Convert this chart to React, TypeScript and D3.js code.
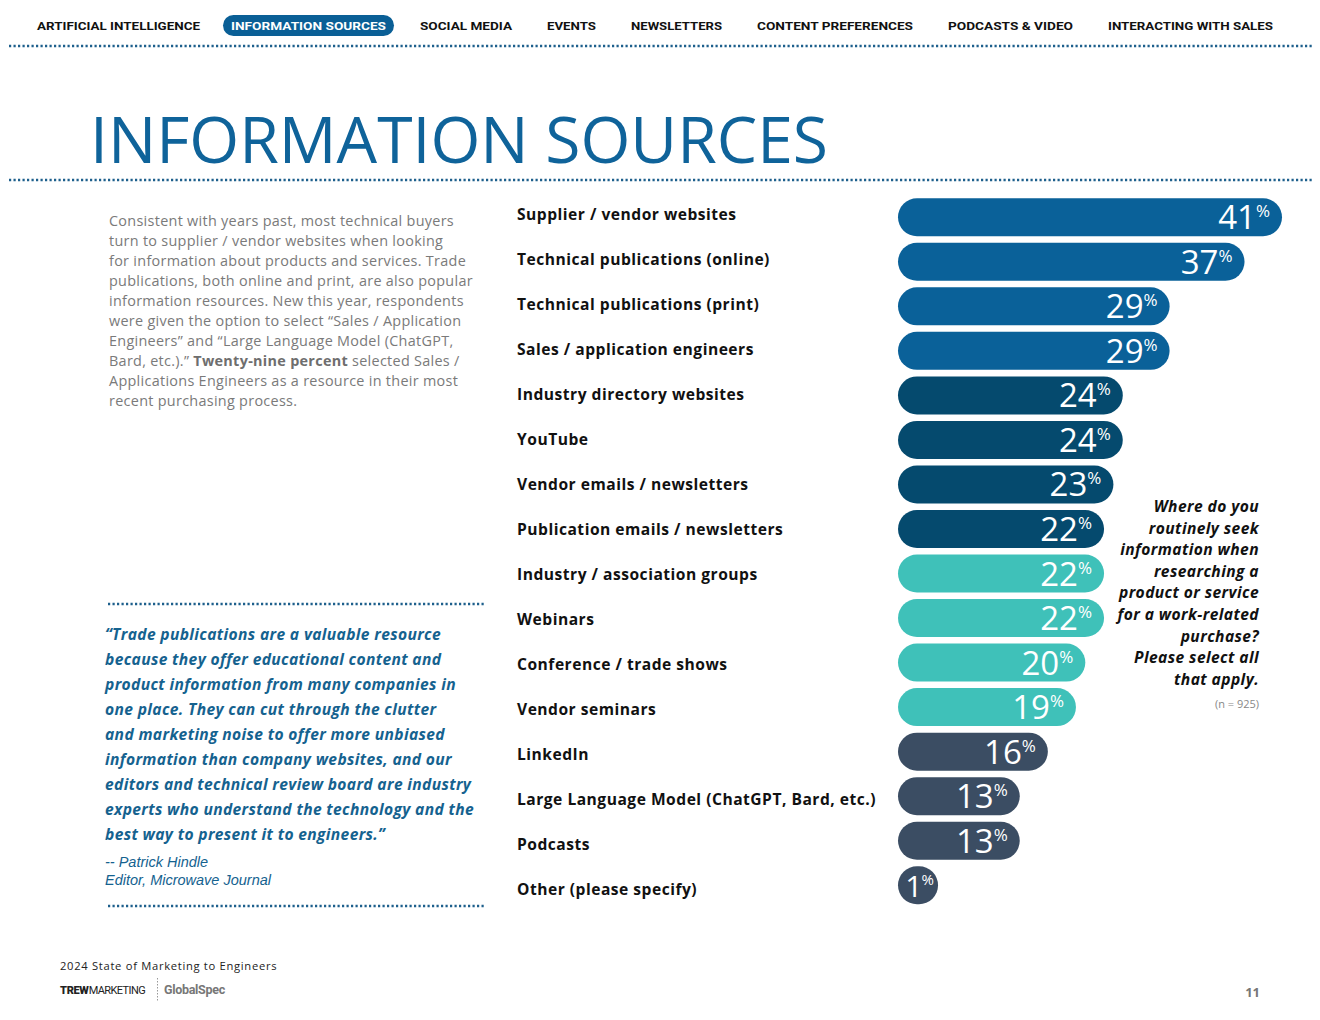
import React from "react";
import * as d3 from "d3";

const navItems = [
  "ARTIFICIAL INTELLIGENCE",
  "INFORMATION SOURCES",
  "SOCIAL MEDIA",
  "EVENTS",
  "NEWSLETTERS",
  "CONTENT PREFERENCES",
  "PODCASTS & VIDEO",
  "INTERACTING WITH SALES",
];
const activeNav = "INFORMATION SOURCES";

const categories = [
  "Supplier / vendor websites",
  "Technical publications (online)",
  "Technical publications (print)",
  "Sales / application engineers",
  "Industry directory websites",
  "YouTube",
  "Vendor emails / newsletters",
  "Publication emails / newsletters",
  "Industry / association groups",
  "Webinars",
  "Conference / trade shows",
  "Vendor seminars",
  "LinkedIn",
  "Large Language Model (ChatGPT, Bard, etc.)",
  "Podcasts",
  "Other (please specify)",
];
const values = [41, 37, 29, 29, 24, 24, 23, 22, 22, 22, 20, 19, 16, 13, 13, 1];
const groups = ["g1", "g1", "g1", "g1", "g2", "g2", "g2", "g2", "g3", "g3", "g3", "g3", "g4", "g4", "g4", "g4"];

const introLines = [
  "Consistent with years past, most technical buyers",
  "turn to supplier / vendor websites when looking",
  "for information about products and services. Trade",
  "publications, both online and print, are also popular",
  "information resources. New this year, respondents",
  "were given the option to select \u201cSales / Application",
  "Engineers\u201d and \u201cLarge Language Model (ChatGPT,",
  "__BOLD__",
  "Applications Engineers as a resource in their most",
  "recent purchasing process.",
];
const quoteLines = [
  "\u201cTrade publications are a valuable resource",
  "because they offer educational content and",
  "product information from many companies in",
  "one place. They can cut through the clutter",
  "and marketing noise to offer more unbiased",
  "information than company websites, and our",
  "editors and technical review board are industry",
  "experts who understand the technology and the",
  "best way to present it to engineers.\u201d",
];
const attributionLines = ["-- Patrick Hindle", "Editor, Microwave Journal"];
const questionLines = [
  "Where do you",
  "routinely seek",
  "information when",
  "researching a",
  "product or service",
  "for a work-related",
  "purchase?",
  "Please select all",
  "that apply.",
];

const W = 1320;
const H = 1020;
const BODY = "'Open Sans', Roboto, sans-serif";
const NUM = "'Open Sans', 'Noto Sans', sans-serif";

export default function App() {
  const x = d3.scaleLinear().domain([0, 41]).range([898, 1282]);
  const y = d3.scaleBand<string>().domain(categories).range([195, 907.5]).paddingInner(0.146).paddingOuter(0.073);
  const yLabel = d3.scaleBand<string>().domain(categories).range([191.5, 911.5]);
  const color = d3.scaleOrdinal<string, string>().domain(["g1", "g2", "g3", "g4"]).range(["#0a6199", "#054a6e", "#3fc1b9", "#3b4d63"]);

  const navStarts = [37, 231, 420, 547, 631, 757, 948, 1108];
  const navWidths = [163, 155, 92, 49, 91, 156, 125, 165];

  const dotted = { stroke: "#1d5f8c", strokeWidth: 2.5, strokeDasharray: "2.2 2.3" };

  return (
    <div style={{ margin: -8, width: W, height: H }}>
      <svg width={W} height={H} style={{ display: "block", background: "#fff" }}>
        {/* Nav */}
        {navItems.map((n, i) => {
          const active = n === activeNav;
          const x0 = navStarts[i];
          return (
            <g key={n}>
              {active && (
                <rect x={x0 - 8} y={15} width={navWidths[i] + 16} height={21} rx={10.5} fill="#0a5f96" />
              )}
              <text
                x={x0}
                y={30}
                fontFamily="Roboto, sans-serif"
                fontWeight={700}
                fontSize={11.5}
                fill={active ? "#fff" : "#111"}
                textLength={navWidths[i]}
                lengthAdjust="spacingAndGlyphs"
              >
                {n}
              </text>
            </g>
          );
        })}
        <line x1={0} x2={W} y1={46} y2={46} {...dotted} />

        {/* Title */}
        <text x={90} y={163} fontFamily={NUM} fontWeight={400} fontSize={64} fill="#0f639a" textLength={738} lengthAdjust="spacingAndGlyphs">
          INFORMATION SOURCES
        </text>
        <line x1={0} x2={W} y1={180} y2={180} {...dotted} />

        {/* Intro paragraph */}
        <g fontFamily={BODY} fontSize={14.4} fill="#7a7a7a" letterSpacing={0.3}>
          {introLines.map((l, i) =>
            l === "__BOLD__" ? (
              <text key={i} x={109} y={226 + i * 20}>
                {"Bard, etc.).\u201d "}
                <tspan fontWeight={700} fill="#6e6e6e">Twenty-nine percent</tspan>
                {" selected Sales /"}
              </text>
            ) : (
              <text key={i} x={109} y={226 + i * 20}>
                {l}
              </text>
            )
          )}
        </g>

        {/* Quote */}
        <line x1={108} x2={484} y1={604} y2={604} {...dotted} />
        <g fontFamily={BODY} fontSize={15.6} fontStyle="italic" fontWeight={700} fill="#15628f" letterSpacing={0.35}>
          {quoteLines.map((l, i) => (
            <text key={i} x={105} y={640 + i * 25}>
              {l}
            </text>
          ))}
        </g>
        <g fontFamily="'Liberation Sans', Arial, sans-serif" fontSize={14.5} fontStyle="italic" fill="#15628f">
          {attributionLines.map((l, i) => (
            <text key={i} x={105} y={867 + i * 18}>
              {l}
            </text>
          ))}
        </g>
        <line x1={108} x2={484} y1={906} y2={906} {...dotted} />

        {/* Category labels */}
        <g fontFamily={BODY} fontWeight={700} fontSize={15.6} fill="#111" letterSpacing={0.5}>
          {categories.map((c) => (
            <text key={c} x={517} y={(yLabel(c) as number) + yLabel.bandwidth() / 2 + 5.5}>
              {c}
            </text>
          ))}
        </g>

        {/* Bars */}
        {categories.map((c, i) => {
          const v = values[i];
          const y0 = y(c) as number;
          const h = y.bandwidth();
          const w = Math.max(x(v) - x(0), h + 2);
          const xEnd = x(0) + w;
          const cy = y0 + h / 2;
          const small = w < 60;
          return (
            <g key={c}>
              <rect x={x(0)} y={y0} width={w} height={h} rx={h / 2} fill={color(groups[i])} />
              <text
                x={small ? x(0) + w / 2 + 1 : xEnd - 12}
                y={cy + 12}
                textAnchor={small ? "middle" : "end"}
                fontFamily={NUM}
                fontSize={small ? 30 : 33}
                letterSpacing={small ? -1 : 0}
                fill="#fff"
              >
                {v}
                <tspan fontSize={small ? 15 : 17} dy={-12}>%</tspan>
              </text>
            </g>
          );
        })}

        {/* Question */}
        <g fontFamily={BODY} fontSize={15.6} fontStyle="italic" fontWeight={700} fill="#111" textAnchor="end" letterSpacing={0.4}>
          {questionLines.map((l, i) => (
            <text key={i} x={1259} y={512 + i * 21.6}>
              {l}
            </text>
          ))}
        </g>
        <text x={1259} y={708} textAnchor="end" fontFamily={BODY} fontSize={11} fill="#888">
          (n = 925)
        </text>

        {/* Footer */}
        <text x={60} y={970} fontFamily={BODY} fontSize={11.2} fill="#222" letterSpacing={0.7}>
          2024 State of Marketing to Engineers
        </text>
        <text x={60} y={994} fontFamily="Roboto, sans-serif" fontSize={11} fill="#222">
          <tspan fontWeight={900} letterSpacing={-0.3}>TREW</tspan>
          <tspan fontWeight={400} letterSpacing={-0.6}>MARKETING</tspan>
        </text>
        <line x1={157.5} x2={157.5} y1={978} y2={1001} stroke="#999" strokeWidth={1} strokeDasharray="1.5 1.5" />
        <text x={164} y={994} fontFamily="Roboto, sans-serif" fontSize={12.5} fontWeight={700} fill="#777" letterSpacing={-0.3}>
          GlobalSpec
        </text>
        <text x={1260} y={997} textAnchor="end" fontFamily={BODY} fontSize={13} fontWeight={700} fill="#777">
          11
        </text>
      </svg>
    </div>
  );
}
